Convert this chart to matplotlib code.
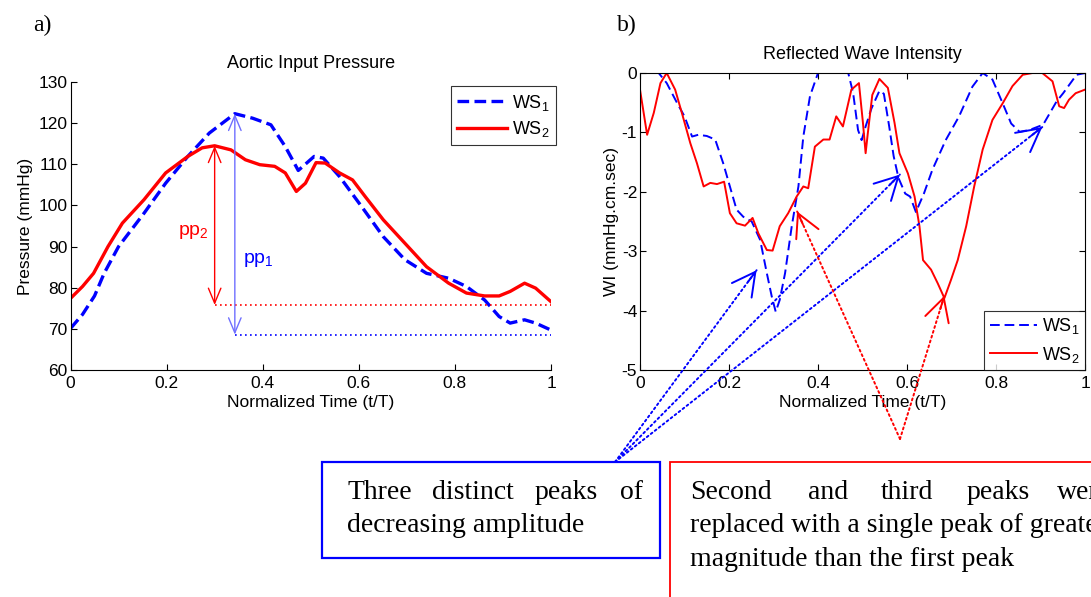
import matplotlib
matplotlib.use("Agg")
import matplotlib.pyplot as plt
from matplotlib.patches import Rectangle

plt.rcParams['font.family'] = ['Liberation Sans', 'DejaVu Sans']
plt.rcParams['mathtext.default'] = 'regular'
plt.rcParams['axes.unicode_minus'] = False

# ---------------- data: panel a (Aortic input pressure) ----------------
p_ws1_t = [0, 0.025, 0.05, 0.07, 0.1, 0.153, 0.198, 0.244, 0.289, 0.342, 0.379, 0.417,
           0.447, 0.474, 0.507, 0.526, 0.56, 0.606, 0.651, 0.696, 0.741, 0.787, 0.824,
           0.862, 0.892, 0.915, 0.945, 0.968, 1.0]
p_ws1 = [70.1, 73.5, 78.0, 83.5, 90.0, 98.1, 105.4, 111.9, 117.6, 122.3, 121.2, 119.6,
         114.3, 108.5, 111.9, 111.5, 107.0, 99.7, 92.4, 86.8, 83.5, 82.3, 80.3,
         77.0, 73.0, 71.4, 72.2, 71.4, 69.7]
p_ws2_t = [0, 0.025, 0.048, 0.078, 0.108, 0.153, 0.198, 0.244, 0.274, 0.3, 0.334, 0.364,
           0.394, 0.425, 0.447, 0.47, 0.489, 0.511, 0.53, 0.56, 0.587, 0.613, 0.651,
           0.696, 0.741, 0.787, 0.824, 0.862, 0.892, 0.915, 0.945, 0.968, 1.0]
p_ws2 = [77.4, 80.3, 83.5, 90.0, 95.7, 101.4, 107.9, 111.9, 114.0, 114.5, 113.5, 111.1,
         109.9, 109.5, 107.9, 103.4, 105.4, 110.4, 110.3, 107.9, 106.2, 102.2, 96.5,
         90.8, 85.1, 81.1, 78.7, 78.0, 78.0, 79.1, 81.1, 79.9, 76.6]
pp1_t, pp1_top, pp1_bot = 0.342, 122.3, 68.6
pp2_t, pp2_top, pp2_bot = 0.3, 114.5, 75.8

# ---------------- data: panel b (Reflected wave intensity) ----------------
w_ws1_t = [0, 0.042, 0.06, 0.083, 0.1, 0.117, 0.131, 0.15, 0.169, 0.187, 0.202, 0.217,
           0.232, 0.251, 0.27, 0.285, 0.296, 0.305, 0.314, 0.326, 0.341, 0.356, 0.367,
           0.382, 0.4, 0.441, 0.468, 0.479, 0.49, 0.498, 0.507, 0.52, 0.538, 0.548,
           0.56, 0.57, 0.581, 0.596, 0.607, 0.62, 0.638, 0.657, 0.687, 0.717, 0.747,
           0.77, 0.792, 0.815, 0.834, 0.853, 0.875, 0.906, 0.936, 0.951, 0.981, 1.0]
w_ws1 = [0, 0, -0.17, -0.5, -0.73, -1.07, -1.04, -1.06, -1.12, -1.52, -1.91, -2.3,
         -2.42, -2.5, -2.81, -3.37, -3.76, -4.02, -3.82, -3.37, -2.58, -1.91, -1.07,
         -0.39, 0, 0, 0, -0.34, -0.96, -1.13, -0.9, -0.6, -0.3, -0.35,
         -0.9, -1.4, -1.77, -2.03, -2.08, -2.34, -2.03, -1.63, -1.13, -0.73, -0.23,
         0, -0.11, -0.51, -0.85, -0.99, -0.96, -0.87, -0.48, -0.34, -0.03, 0]
w_ws2_t = [0, 0.016, 0.031, 0.046, 0.06, 0.079, 0.094, 0.113, 0.128, 0.143, 0.158, 0.173,
           0.189, 0.202, 0.217, 0.236, 0.253, 0.266, 0.285, 0.298, 0.314, 0.333, 0.352,
           0.367, 0.378, 0.393, 0.412, 0.426, 0.441, 0.456, 0.475, 0.492, 0.501, 0.507,
           0.512, 0.522, 0.538, 0.557, 0.572, 0.583, 0.602, 0.617, 0.628, 0.636, 0.654,
           0.669, 0.684, 0.699, 0.714, 0.733, 0.751, 0.77, 0.792, 0.815, 0.837, 0.86,
           0.882, 0.904, 0.927, 0.942, 0.953, 0.964, 0.979, 1.0]
w_ws2 = [-0.28, -1.04, -0.67, -0.17, 0, -0.28, -0.67, -1.18, -1.52, -1.91, -1.85, -1.87,
         -1.83, -2.36, -2.53, -2.57, -2.44, -2.7, -2.98, -2.99, -2.58, -2.36, -2.08,
         -1.91, -1.94, -1.24, -1.12, -1.12, -0.73, -0.9, -0.28, -0.17, -0.84, -1.35,
         -1.01, -0.37, -0.1, -0.25, -0.84, -1.35, -1.69, -2.08, -2.58, -3.15, -3.31,
         -3.54, -3.79, -3.48, -3.15, -2.58, -1.91, -1.29, -0.79, -0.51, -0.22, -0.03,
         0, 0, -0.14, -0.56, -0.59, -0.45, -0.34, -0.28]
blue_targets = [(0.262, -3.32), (0.584, -1.71), (0.904, -0.91)]
red_targets = [(0.353, -2.33), (0.684, -3.75)]

xticks = [0, 0.2, 0.4, 0.6, 0.8, 1]
xticklabels = ['0', '0.2', '0.4', '0.6', '0.8', '1']

W, H = 1091, 597
fig = plt.figure(figsize=(W / 100, H / 100), dpi=100)

def fr(x0, y0, x1, y1):
    return [x0 / W, 1 - y1 / H, (x1 - x0) / W, (y1 - y0) / H]

TICK = 12.5
LAB = 12.5

# ---------------- panel a ----------------
axa = fig.add_axes(fr(70.5, 82, 551, 370))
axa.plot(p_ws1_t, p_ws1, color='#0000ff', lw=2.4, dashes=(3.5, 1.6), label='WS$_1$')
axa.plot(p_ws2_t, p_ws2, color='#ff0000', lw=2.4, label='WS$_2$')
axa.plot([pp2_t, 1], [pp2_bot, pp2_bot], color='#ff0000', lw=1.2, ls=(0, (1, 2)))
axa.plot([pp1_t, 1], [pp1_bot, pp1_bot], color='#0000ff', lw=1.2, ls=(0, (1, 2)))
axa.annotate('', xy=(pp2_t, pp2_bot), xytext=(pp2_t, pp2_top),
             arrowprops=dict(arrowstyle='<->,head_length=0.6,head_width=0.25',
                             color='#ff0000', lw=1.0, shrinkA=0, shrinkB=0,
                             mutation_scale=18))
axa.annotate('', xy=(pp1_t, pp1_bot), xytext=(pp1_t, pp1_top),
             arrowprops=dict(arrowstyle='<->,head_length=0.6,head_width=0.25',
                             color='#6f6fff', lw=1.0, shrinkA=0, shrinkB=0,
                             mutation_scale=18))
axa.text(0.255, 93.6, 'pp$_2$', color='#ff0000', fontsize=14, ha='center', va='center')
axa.text(0.392, 86.8, 'pp$_1$', color='#0000ff', fontsize=14, ha='center', va='center')
axa.set_xlim(0, 1)
axa.set_ylim(60, 130)
axa.set_yticks(range(60, 131, 10))
axa.set_xticks(xticks)
axa.set_xticklabels(xticklabels)
axa.spines['top'].set_visible(False)
axa.spines['right'].set_visible(False)
axa.tick_params(direction='in', labelsize=TICK, length=4, width=0.8, pad=2)
axa.tick_params(axis='x', pad=4)
axa.set_title('Aortic Input Pressure', fontsize=13, pad=10)
axa.set_xlabel('Normalized Time (t/T)', fontsize=LAB, labelpad=3)
axa.set_ylabel('Pressure (mmHg)', fontsize=LAB, labelpad=4)
lga = axa.legend(loc='upper right', bbox_to_anchor=(1.01, 0.985), fontsize=13,
                 frameon=True, fancybox=False, edgecolor='black', handlelength=2.8,
                 borderpad=0.35, labelspacing=0.35, handletextpad=0.25, borderaxespad=0)
lga.get_frame().set_linewidth(0.8)

# ---------------- panel b ----------------
axb = fig.add_axes(fr(640, 73, 1085, 370))
axb.plot(w_ws1_t, w_ws1, color='#0000ff', lw=1.4, dashes=(5, 2.5), label='WS$_1$')
axb.plot(w_ws2_t, w_ws2, color='#ff0000', lw=1.4, label='WS$_2$')
axb.set_xlim(0, 1)
axb.set_ylim(-5, 0)
axb.set_yticks([-5, -4, -3, -2, -1, 0])
axb.set_xticks(xticks)
axb.set_xticklabels(xticklabels)
axb.tick_params(direction='in', labelsize=TICK, length=4, width=0.8, pad=2,
                top=True, right=True)
axb.tick_params(axis='x', pad=4)
axb.set_title('Reflected Wave Intensity', fontsize=13, pad=10)
axb.set_xlabel('Normalized Time (t/T)', fontsize=LAB, labelpad=3)
axb.set_ylabel('WI (mmHg.cm.sec)', fontsize=LAB, labelpad=2)
lgb = axb.legend(loc='lower right', fontsize=13, frameon=True, fancybox=False,
                 edgecolor='black', handlelength=2.6, borderpad=0.3,
                 labelspacing=0.45, handletextpad=0.3, borderaxespad=0)
lgb.get_frame().set_linewidth(0.8)

# ---------------- annotation arrows ----------------
blue_src = (615 / W, 1 - 462 / H)
red_src = (900 / W, 1 - 439 / H)

def dotted_arrow(target, src, color):
    axb.annotate('', xy=target, xycoords='data', xytext=src,
                 textcoords='figure fraction', annotation_clip=False,
                 arrowprops=dict(arrowstyle='-', color=color, lw=1.4,
                                 ls=(0, (1, 1.6)), shrinkA=0, shrinkB=0))
    tx, ty = axb.transData.transform(target)
    sx, sy = src[0] * W, src[1] * H
    dx, dy = tx - sx, ty - sy
    L = (dx ** 2 + dy ** 2) ** 0.5
    bx, by = tx - dx / L * 14, ty - dy / L * 14
    axb.annotate('', xy=target, xycoords='data',
                 xytext=(bx / W, by / H), textcoords='figure fraction',
                 annotation_clip=False,
                 arrowprops=dict(arrowstyle='->,head_length=0.75,head_width=0.4',
                                 color=color, lw=1.4, shrinkA=0, shrinkB=0,
                                 mutation_scale=22))

for t in blue_targets:
    dotted_arrow(t, blue_src, '#0000ff')
for t in red_targets:
    dotted_arrow(t, red_src, '#ff0000')

# ---------------- panel labels ----------------
fig.text(33 / W, 1 - 31 / H, 'a)', fontsize=17, family='Liberation Serif', va='baseline')
fig.text(617 / W, 1 - 31 / H, 'b)', fontsize=17, family='Liberation Serif', va='baseline')

# ---------------- text boxes ----------------
fig.patches.append(Rectangle((322 / W, 1 - 558 / H), 338 / W, 96 / H,
                             transform=fig.transFigure, fill=False,
                             edgecolor='#0000ff', lw=1.6))
fig.patches.append(Rectangle((670 / W, 1 - 640 / H), 440 / W, 178 / H,
                             transform=fig.transFigure, fill=False,
                             edgecolor='#ff0000', lw=1.3, clip_on=False))

serif = dict(family='Liberation Serif', fontsize=20, va='baseline', color='black')
blue_words = [('Three', 347), ('distinct', 432), ('peaks', 535), ('of', 620)]
for w, x in blue_words:
    fig.text(x / W, 1 - 499 / H, w, **serif)
fig.text(347 / W, 1 - 532 / H, 'decreasing amplitude', **serif)

red_words = [('Second', 690), ('and', 808), ('third', 881), ('peaks', 967), ('were', 1057)]
for w, x in red_words:
    fig.text(x / W, 1 - 499 / H, w, **serif)
fig.text(690 / W, 1 - 532 / H, 'replaced with a single peak of greater', **serif)
fig.text(690 / W, 1 - 566 / H, 'magnitude than the first peak', **serif)

fig.savefig('out.png', dpi=100)
